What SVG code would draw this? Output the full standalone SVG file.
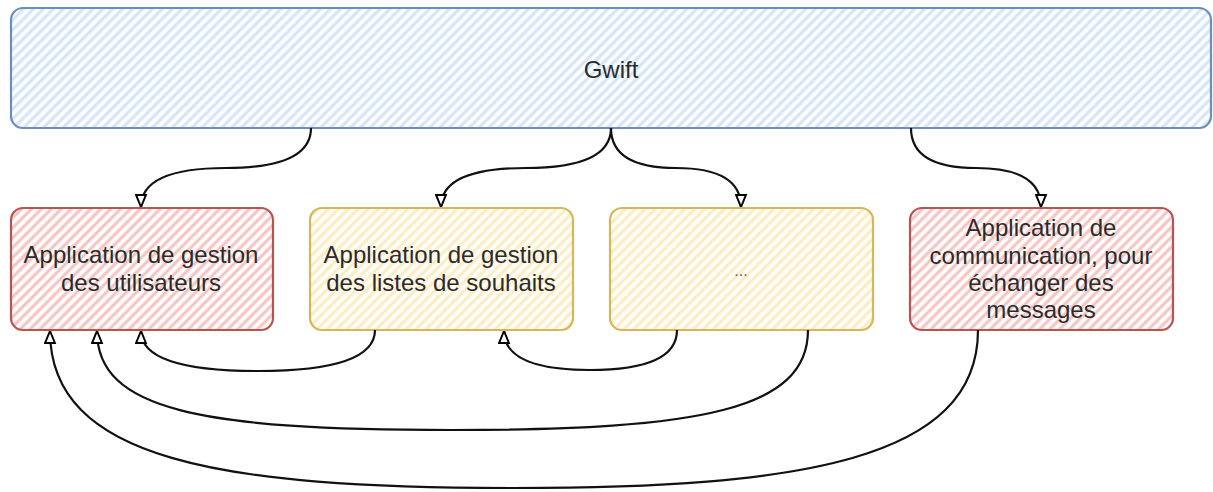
<svg xmlns="http://www.w3.org/2000/svg" width="1213" height="492" viewBox="0 0 1213 492">
<defs>
<pattern id="hBlue" width="7" height="7" patternUnits="userSpaceOnUse" patternTransform="rotate(45)"><line x1="2" y1="0" x2="2" y2="7" stroke="#d4e4fa" stroke-width="3.2"/></pattern>
<pattern id="hRed" width="7" height="7" patternUnits="userSpaceOnUse" patternTransform="rotate(45)"><line x1="2" y1="0" x2="2" y2="7" stroke="#f5c4c2" stroke-width="3.2"/></pattern>
<pattern id="hYel" width="7" height="7" patternUnits="userSpaceOnUse" patternTransform="rotate(45)"><line x1="2" y1="0" x2="2" y2="7" stroke="#fcecbf" stroke-width="3.2"/></pattern>
<marker id="arr" viewBox="0 0 12 12" refX="12" refY="6" markerWidth="13" markerHeight="13" markerUnits="userSpaceOnUse" orient="auto"><path d="M1,1.5 L12,6 L1,10.5 Z" fill="#fff" stroke="#000" stroke-width="1.8"/></marker>
</defs>
<style>
.lbl{font-family:"Liberation Sans",Arial,sans-serif;font-size:24px;fill:#2b2b2b;text-anchor:middle}
.blue{fill:url(#hBlue);stroke:#6c8ebf;stroke-width:2.2}
.red{fill:url(#hRed);stroke:#b85450;stroke-width:2.2}
.yel{fill:url(#hYel);stroke:#d6b656;stroke-width:2.2}
.edge{fill:none;stroke:#111;stroke-width:2.2;marker-end:url(#arr)}
</style>
<g id="gwift"><rect class="blue" x="11" y="8" width="1200" height="120" rx="12"/><text class="lbl" x="611" y="78">Gwift</text></g>
<g id="users"><rect class="red" x="11" y="208" width="262" height="122" rx="12"/><text class="lbl" x="141" y="263">Application de gestion</text><text class="lbl" x="141" y="291">des utilisateurs</text></g>
<g id="wishlists"><rect class="yel" x="310" y="208" width="263" height="122" rx="12"/><text class="lbl" x="441" y="263">Application de gestion</text><text class="lbl" x="441" y="291">des listes de souhaits</text></g>
<g id="other"><rect class="yel" x="610" y="208" width="263" height="122" rx="12"/><text class="lbl" x="741" y="276" style="font-size:16px;fill:#666">...</text></g>
<g id="messages"><rect class="red" x="910" y="208" width="263" height="122" rx="12"/><text class="lbl" x="1041" y="236">Application de</text><text class="lbl" x="1041" y="264">communication, pour</text><text class="lbl" x="1041" y="291">échanger des</text><text class="lbl" x="1041" y="318">messages</text></g>
<g id="connectors">
<path class="edge" d="M311,128 Q311,168 226,168 Q141,168 141,207"/>
<path class="edge" d="M611,128 Q611,168 526,168 Q441,168 441,207"/>
<path class="edge" d="M611,128 Q611,168 676,168 Q741,168 741,207"/>
<path class="edge" d="M911,128 Q911,168 976,168 Q1041,168 1041,207"/>
<path class="edge" d="M375,330 Q375,371 258,371 Q141,371 141,331"/>
<path class="edge" d="M677,330 Q677,370 590,370 Q504,370 504,331"/>
<path class="edge" d="M808,330 C808,410 700,430 452,430 C200,430 97,410 97,331"/>
<path class="edge" d="M978,330 C978,460 800,488 514,488 C220,488 50,460 50,331"/>
</g>
</svg>
